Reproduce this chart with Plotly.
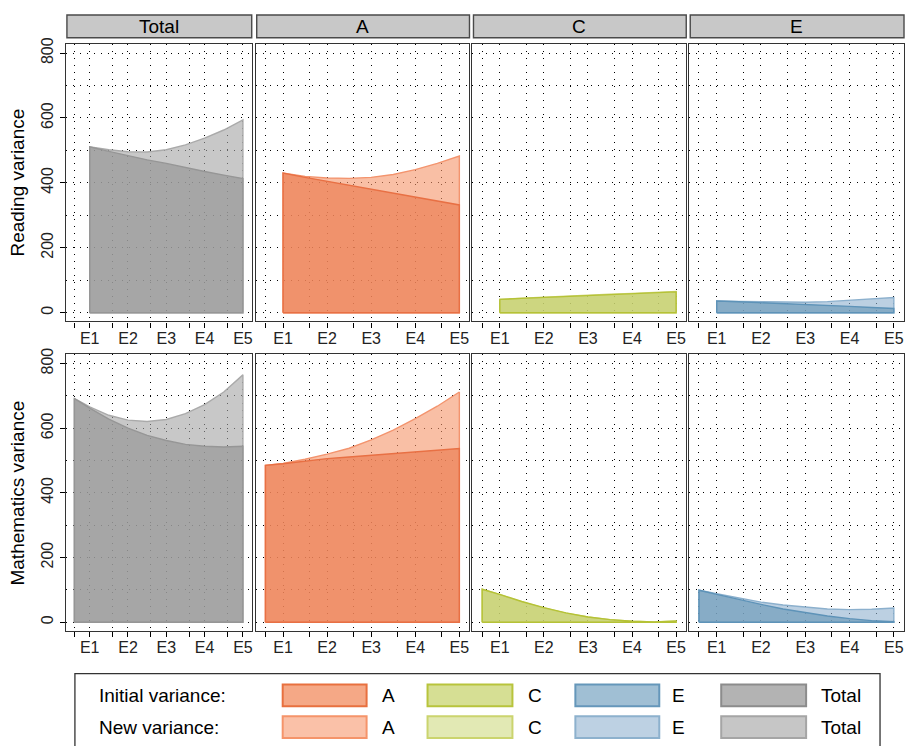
import plotly.graph_objects as go

# ---- data -----------------------------------------------------------------
components = ["Total", "A", "C", "E"]
tick_labels = ["E1", "E2", "E3", "E4", "E5"]
tick_positions = [1, 2, 3, 4, 5]
minor_positions = [0.6, 1.6, 2.6, 3.6, 4.6]

reading_x = [1, 1.5, 2, 2.5, 3, 3.5, 4, 4.5, 5]
maths_x = [0.6, 1, 1.5, 2, 2.5, 3, 3.5, 4, 4.5, 5]

reading_initial = {
    "Total": [511, 497, 483, 471, 460, 447, 435, 424, 413],
    "A":     [430, 417, 405, 393, 381, 368, 356, 344, 332],
    "C":     [41, 44, 47, 50, 53, 56, 58, 61, 64],
    "E":     [36, 33.5, 31, 28.5, 26, 23, 19.5, 16, 13],
}
reading_new = {
    "Total": [511, 502, 496, 495, 502, 517, 538, 563, 594],
    "A":     [430, 420, 415, 414, 417, 426, 441, 460, 483],
    "C":     [41, 44.5, 48, 51, 54, 57, 59.5, 62.5, 65.5],
    "E":     [36, 34.5, 33, 32, 32, 34, 38, 42, 47],
}
maths_initial = {
    "Total": [692, 662, 628, 600, 578, 562, 550, 544, 542, 544],
    "A":     [485, 490, 499, 506, 511, 516, 521, 526, 531, 537],
    "C":     [102, 86, 64, 45, 29, 16, 8, 3, 1, 4],
    "E":     [99, 86, 70, 55, 41, 29, 19, 11, 5, 2],
}
maths_new = {
    "Total": [692, 666, 640, 625, 621, 627, 645, 673, 712, 765],
    "A":     [485, 491, 504, 520, 538, 564, 594, 630, 668, 712],
    "C":     [102, 85, 63, 44, 28, 16, 8, 3, 1, 3],
    "E":     [99, 88, 74, 62, 53, 46, 41, 39, 40, 44],
}

rows = [
    ("Reading variance", reading_x, reading_initial, reading_new),
    ("Mathematics variance", maths_x, maths_initial, maths_new),
]

# ---- styling ----------------------------------------------------------------
W, H = 908, 746
FONT = "Liberation Sans, Arial, sans-serif"

# colours: (new-only area, overlapped area, initial line, new line)
palette = {
    "A":     ((249, 191, 165), (240, 146, 108), (232, 112, 68), (243, 148, 110)),
    "C":     ((226, 232, 178), (206, 214, 128), (181, 194, 54), (205, 212, 120)),
    "E":     ((188, 208, 226), (135, 172, 198), (94, 147, 184), (140, 176, 205)),
    "Total": ((200, 200, 200), (166, 166, 166), (150, 150, 150), (170, 170, 170)),
}
# legend swatches: (initial fill, initial border, new fill, new border)
legend_cols = {
    "A":     ("#F5A886", "#E8703F", "#FAC1A8", "#F5946A"),
    "C":     ("#D6DF94", "#B8C43C", "#E2E9B4", "#CBD46E"),
    "E":     ("#A0BFD4", "#6597BA", "#BDD1E3", "#8DB1CD"),
    "Total": ("#B3B3B3", "#8C8C8C", "#C6C6C6", "#A5A5A5"),
}
A_NEW, A_INIT = 0.6, 0.7


def clamp(v):
    return max(0, min(255, round(v)))


def rgba_over(base, target, alpha):
    c = [clamp(b - (b - t) / alpha) for b, t in zip(base, target)]
    return f"rgba({c[0]},{c[1]},{c[2]},{alpha})"


def rgb(c):
    return f"rgb({c[0]},{c[1]},{c[2]})"


col_px = [(66, 252), (256, 470), (473, 687), (690, 905)]
row_px = [(38, 318), (351, 630)]
strip_px = (9, 32)


def px_x(p):
    return p / W


def px_y(p):
    return 1 - p / H


grid = dict(showgrid=True, gridcolor="black", gridwidth=1, griddash="1px,6px")
tick_font = dict(size=16, family=FONT, color="#222")

fig = go.Figure()
layout = dict(
    width=W, height=H, margin=dict(l=0, r=0, t=0, b=0),
    paper_bgcolor="white", plot_bgcolor="white", showlegend=False,
    font=dict(family=FONT, color="black"),
)
shapes, annotations = [], []

for r, (title, xs, init, new) in enumerate(rows):
    for c, comp in enumerate(components):
        idx = r * 4 + c + 1
        xa = "x" if idx == 1 else f"x{idx}"
        ya = "y" if idx == 1 else f"y{idx}"
        new_only, overlap, line_init, line_new = palette[comp]
        fill_new = rgba_over((255, 255, 255), new_only, A_NEW)
        fill_init = rgba_over(new_only, overlap, A_INIT)

        for vals, fill, lcol in ((new[comp], fill_new, line_new),
                                 (init[comp], fill_init, line_init)):
            px_ = [xs[0]] + xs + [xs[-1], xs[0]]
            py_ = [0] + vals + [0, 0]
            fig.add_trace(go.Scatter(
                x=px_, y=py_, xaxis=xa, yaxis=ya, mode="lines",
                fill="toself", fillcolor=fill,
                line=dict(color=rgb(lcol), width=1.4),
                hoverinfo="skip",
            ))

        x0, x1 = col_px[c]
        y0, y1 = row_px[r]
        layout["xaxis" if idx == 1 else f"xaxis{idx}"] = dict(
            domain=[px_x(x0), px_x(x1)], range=[0.38, 5.23], anchor=ya,
            tickvals=tick_positions, ticktext=tick_labels,
            ticks="outside", ticklen=5, tickcolor="black", tickwidth=1,
            tickfont=tick_font, ticklabelstandoff=-3,
            showline=True, mirror=True, linecolor="#333", linewidth=1.2,
            zeroline=False, fixedrange=True,
            minor=dict(tickvals=minor_positions, ticks="outside", ticklen=5,
                       tickcolor="black", tickwidth=1, **grid),
            **grid,
        )
        first = c == 0
        layout["yaxis" if idx == 1 else f"yaxis{idx}"] = dict(
            domain=[px_y(y1), px_y(y0)], range=[-27, 829], anchor=xa,
            tickvals=[0, 200, 400, 600, 800],
            showticklabels=first, ticks="outside" if first else "",
            ticklen=5, tickcolor="black", tickangle=-90,
            tickfont=tick_font,
            showline=True, mirror=True, linecolor="#333", linewidth=1.2,
            zeroline=False, fixedrange=True,
            minor=dict(tickvals=[100, 300, 500, 700], ticks="", **grid),
            **grid,
        )

    annotations.append(dict(
        text=title, xref="paper", yref="paper",
        x=px_x(18), y=px_y(sum(row_px[r]) / 2), textangle=-90,
        showarrow=False, xanchor="center", yanchor="middle",
        font=dict(size=19, family=FONT, color="black"),
    ))

# strip headers above the top row
for c, comp in enumerate(components):
    x0, x1 = col_px[c]
    shapes.append(dict(
        type="rect", xref="paper", yref="paper",
        x0=px_x(x0 + 1), x1=px_x(x1), y0=px_y(strip_px[1]), y1=px_y(strip_px[0]),
        fillcolor="#C8C8C8", line=dict(color="#4a4a4a", width=1.4),
    ))
    annotations.append(dict(
        text=comp, xref="paper", yref="paper",
        x=px_x((x0 + x1) / 2), y=px_y(sum(strip_px) / 2),
        showarrow=False, xanchor="center", yanchor="middle",
        font=dict(size=19, family=FONT, color="black"),
    ))

# key below the panels
shapes.append(dict(
    type="rect", xref="paper", yref="paper",
    x0=px_x(75), x1=px_x(881), y0=px_y(770), y1=px_y(673),
    fillcolor="rgba(0,0,0,0)", line=dict(color="#333", width=1.3),
))
key_rows = [("Initial variance:", (684, 706)), ("New variance:", (716, 738))]
swatch_x = {"A": (283, 367), "C": (428, 513), "E": (576, 660), "Total": (722, 807)}
label_x = {"A": 380, "C": 527, "E": 671, "Total": 820}
key_order = ["A", "C", "E", "Total"]
for k, (label, (sy0, sy1)) in enumerate(key_rows):
    annotations.append(dict(
        text=label, xref="paper", yref="paper",
        x=px_x(97), y=px_y((sy0 + sy1) / 2), showarrow=False,
        xanchor="left", yanchor="middle",
        font=dict(size=19, family=FONT, color="black"),
    ))
    for comp in key_order:
        fill_i, line_i, fill_n, line_n = legend_cols[comp]
        fill, lc = (fill_i, line_i) if k == 0 else (fill_n, line_n)
        sx0, sx1 = swatch_x[comp]
        shapes.append(dict(
            type="rect", xref="paper", yref="paper",
            x0=px_x(sx0), x1=px_x(sx1), y0=px_y(sy1), y1=px_y(sy0),
            fillcolor=fill, line=dict(color=lc, width=2),
        ))
        annotations.append(dict(
            text=comp, xref="paper", yref="paper",
            x=px_x(label_x[comp]), y=px_y((sy0 + sy1) / 2), showarrow=False,
            xanchor="left", yanchor="middle",
            font=dict(size=19, family=FONT, color="black"),
        ))

layout["shapes"] = shapes
layout["annotations"] = annotations
fig.update_layout(**layout)
fig.write_html("out.html")
